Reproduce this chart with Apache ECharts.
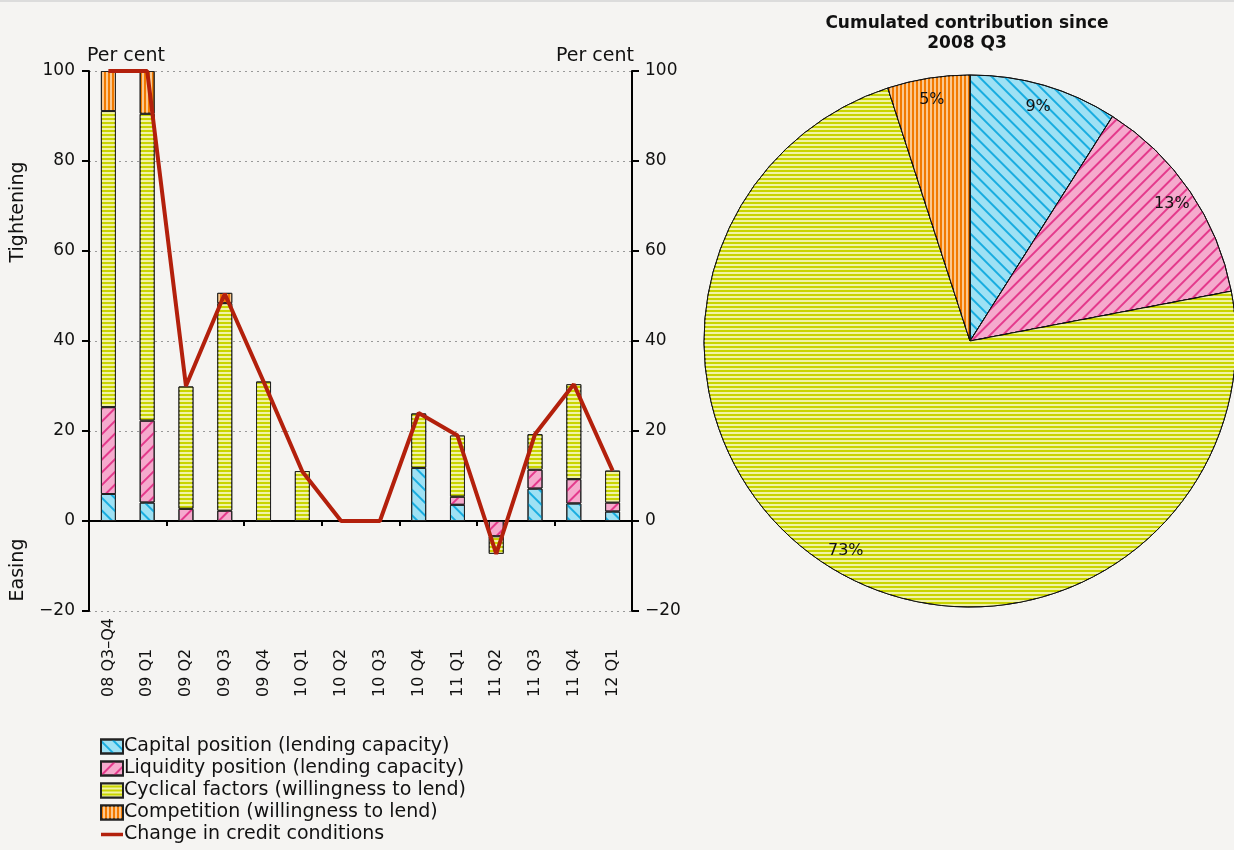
<!DOCTYPE html>
<html>
<head>
<meta charset="utf-8">
<script src="https://cdn.jsdelivr.net/npm/echarts@6/dist/echarts.min.js"></script>
<style>
  html, body { margin: 0; padding: 0; background: #f5f4f2; }
  #main { width: 1234px; height: 850px; }
</style>
</head>
<body>
<div id="main"></div>
<script>
// quarters on the bar chart
var categories = ['08 Q3–Q4', '09 Q1', '09 Q2', '09 Q3', '09 Q4', '10 Q1', '10 Q2', '10 Q3', '10 Q4', '11 Q1', '11 Q2', '11 Q3', '11 Q4', '12 Q1'];
// contributions, per cent (null = nothing drawn)
var capital = [6.0, 4.1, null, null, null, null, null, null, 11.8, 3.6, null, 7.2, 3.9, 2.1];
var liquidity = [19.3, 18.2, 2.7, 2.3, null, null, null, null, null, 1.8, -3.4, 4.2, 5.4, 2.0];
var cyclical = [65.8, 68.2, 27.2, 46.1, 31.0, 11.1, null, null, 12.1, 13.6, -3.9, 7.9, 21.1, 7.1];
var competition = [8.9, 9.5, null, 2.3, null, null, null, null, null, null, null, null, null, null];
var creditChange = [100, 100, 30, 50.5, 31, 11, 0, 0, 24, 19, -7.3, 19.3, 30.4, 11.2];

// pie: cumulated contribution since 2008 Q3
var pieNames = ['Capital position (lending capacity)', 'Liquidity position (lending capacity)', 'Cyclical factors (willingness to lend)', 'Competition (willingness to lend)'];
var pieValues = [9, 13, 73, 5];

var FONT = 'DejaVu Sans';

var styles = [
    { color: '#9ee1f4', decal: { symbol: 'rect', symbolSize: 1, color: '#19ade0', dashArrayX: [1, 0], dashArrayY: [1.6, 7], rotation: Math.PI / 4 } },
    { color: '#f5aacd', decal: { symbol: 'rect', symbolSize: 1, color: '#e43a8c', dashArrayX: [1, 0], dashArrayY: [1.6, 7], rotation: -Math.PI / 4 } },
    { color: '#c9d400', decal: { symbol: 'rect', symbolSize: 1, color: '#f1f3a6', dashArrayX: [1, 0], dashArrayY: [2, 2], rotation: 0 } },
    { color: '#f27a00', decal: { symbol: 'rect', symbolSize: 1, color: '#fbc88e', dashArrayX: [1, 0], dashArrayY: [2, 2], rotation: Math.PI / 2 } }
];

var barData = [capital, liquidity, cyclical, competition];

var series = barData.map(function (d, i) {
    return {
        name: pieNames[i],
        type: 'bar',
        stack: 'total',
        barWidth: 15,
        xAxisIndex: 0,
        yAxisIndex: 0,
        data: d,
        itemStyle: {
            color: styles[i].color,
            decal: styles[i].decal,
            borderColor: '#222',
            borderWidth: 1
        }
    };
});

series.push({
    name: 'Change in credit conditions',
    type: 'line',
    xAxisIndex: 0,
    yAxisIndex: 0,
    data: creditChange,
    symbol: 'none',
    z: 5,
    lineStyle: { color: '#b3200c', width: 4 },
    itemStyle: { color: '#b3200c' }
});

series.push({
    type: 'pie',
    center: [970, 341],
    radius: 266,
    startAngle: 90,
    clockwise: true,
    silent: true,
    data: pieValues.map(function (v, i) {
        return {
            name: pieNames[i],
            value: v,
            itemStyle: { color: styles[i].color, decal: styles[i].decal }
        };
    }),
    itemStyle: { borderColor: '#111', borderWidth: 1 },
    label: { show: false },
    labelLine: { show: false }
});

// invisible ring only to put the % labels near the rim
series.push({
    type: 'pie',
    center: [970, 341],
    radius: [216, 266],
    startAngle: 90,
    clockwise: true,
    silent: true,
    z: 10,
    data: pieValues.map(function (v, i) {
        return { name: pieNames[i] + ' ', value: v };
    }),
    itemStyle: { color: 'rgba(0,0,0,0)', borderWidth: 0 },
    label: {
        show: true,
        position: 'inside',
        formatter: '{c}%',
        color: '#111',
        fontFamily: FONT,
        fontSize: 16
    },
    labelLine: { show: false }
});

var legendData = pieNames.map(function (n) {
    return { name: n, icon: 'rect' };
});
legendData.push({ name: 'Change in credit conditions', icon: 'path://M0,0 L22,0 L22,3.5 L0,3.5 Z' });

var myChart = echarts.init(document.getElementById('main'));

myChart.setOption({
    backgroundColor: '#f5f4f2',
    animation: false,
    textStyle: { fontFamily: FONT },
    grid: { left: 89, right: 602, top: 71, bottom: 239 },
    legend: {
        orient: 'vertical',
        left: 95,
        top: 732,
        itemWidth: 22,
        itemHeight: 14,
        itemGap: 3,
        symbolKeepAspect: true,
        data: legendData,
        textStyle: { fontFamily: FONT, fontSize: 19, color: '#111', padding: [0, 0, 0, -4] },
        selectedMode: false
    },
    xAxis: [
        {
            type: 'category',
            data: categories,
            axisLine: { onZero: true, lineStyle: { color: '#000', width: 2 } },
            axisTick: { show: true, length: 5, lineStyle: { color: '#000', width: 2 } },
            axisLabel: { show: false }
        },
        {
            type: 'category',
            data: categories,
            position: 'bottom',
            axisLine: { show: false },
            axisTick: { show: false },
            axisLabel: {
                rotate: 90,
                align: 'left',
                margin: 86,
                color: '#111',
                fontFamily: FONT,
                fontSize: 16
            }
        }
    ],
    yAxis: [
        {
            type: 'value',
            min: -20,
            max: 100,
            interval: 20,
            position: 'left',
            name: 'Per cent',
            nameLocation: 'end',
            nameGap: 5,
            nameTextStyle: { align: 'left', color: '#111', fontSize: 19, fontFamily: FONT, padding: [0, 0, 0, -2] },
            axisLine: { show: true, lineStyle: { color: '#000', width: 2 } },
            axisTick: { show: true, length: 7, lineStyle: { color: '#000', width: 2 } },
            axisLabel: {
                color: '#111', fontSize: 17, fontFamily: FONT, margin: 14,
                formatter: function (v) { return String(v).replace('-', '\u2212'); }
            },
            splitLine: { show: true, lineStyle: { color: '#999', type: [2, 4], width: 1 } }
        },
        {
            type: 'value',
            min: -20,
            max: 100,
            interval: 20,
            position: 'right',
            name: 'Per cent',
            nameLocation: 'end',
            nameGap: 5,
            nameTextStyle: { align: 'right', color: '#111', fontSize: 19, fontFamily: FONT, padding: [0, -2, 0, 0] },
            axisLine: { show: true, lineStyle: { color: '#000', width: 2 } },
            axisTick: { show: true, length: 7, lineStyle: { color: '#000', width: 2 } },
            axisLabel: {
                color: '#111', fontSize: 17, fontFamily: FONT, margin: 13,
                formatter: function (v) { return String(v).replace('-', '\u2212'); }
            },
            splitLine: { show: false }
        }
    ],
    graphic: [
        {
            type: 'rect',
            shape: { x: 0, y: 0, width: 1234, height: 2 },
            style: { fill: '#dcdcdc' },
            silent: true
        },
        {
            type: 'text',
            x: 18, y: 212,
            rotation: Math.PI / 2,
            style: { text: 'Tightening', fontFamily: FONT, fontSize: 19, fill: '#111', textAlign: 'center', textVerticalAlign: 'middle' }
        },
        {
            type: 'text',
            x: 18, y: 570,
            rotation: Math.PI / 2,
            style: { text: 'Easing', fontFamily: FONT, fontSize: 19, fill: '#111', textAlign: 'center', textVerticalAlign: 'middle' }
        },
        {
            type: 'text',
            x: 967, y: 14,
            style: {
                text: 'Cumulated contribution since\n2008 Q3',
                fontFamily: FONT, fontSize: 17, fontWeight: 'bold', fill: '#111',
                textAlign: 'center', lineHeight: 20
            }
        }
    ],
    series: series
});
</script>
</body>
</html>
